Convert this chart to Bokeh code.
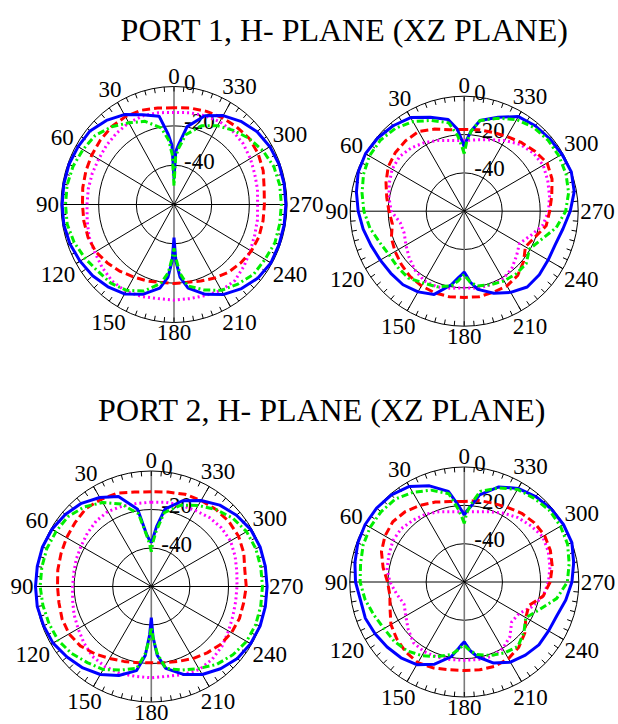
import numpy as np
from bokeh.plotting import figure
from bokeh.models import Range1d
from bokeh.embed import file_html
from bokeh.resources import INLINE
from bokeh.core.properties import value

# ---------------- data (relative level, dB; radial range -60 .. 0 dB) ----------------
DB_MIN, DB_MAX = -60.0, 0.0

# angles (deg) used for the solid / dash-dot traces (denser near the nulls)
ANG_N = [0, 2, 5, 10, 20, 30, 40, 50, 60, 70, 80, 90, 100, 110, 120, 130, 140, 150, 160, 170,
         175, 178, 180, 182, 185, 190, 200, 210, 220, 230, 240, 250, 260, 270, 280, 290, 300,
         310, 320, 330, 340, 350, 355, 358, 360]
# angles (deg) used for the dashed / dotted traces
ANG_W = [0, 10, 20, 30, 40, 50, 60, 70, 80, 90, 100, 110, 120, 130, 140, 150, 160, 170, 180,
         190, 200, 210, 220, 230, 240, 250, 260, 270, 280, 290, 300, 310, 320, 330, 340, 350, 360]

# Port 1, left pattern
P1A_BLUE = [-46.8, -30.0, -24.0, -14.4, -11.4, -7.2, -4.2, -1.8, -1.2, -0.6, -0.6, -0.6, -0.6, -1.2,
            -2.4, -3.6, -5.4, -7.5, -11.4, -16.8, -22.8, -31.2, -43.2, -31.2, -22.8, -16.8, -11.4,
            -7.2, -4.2, -1.8, -0.6, -0.6, -0.6, -0.6, -0.6, -0.6, -1.2, -2.4, -4.8, -7.8, -12.0,
            -19.8, -28.8, -33.0, -46.8]
P1A_GREEN = [-50.4, -34.8, -27.0, -20.4, -15.0, -12.0, -8.4, -5.4, -4.2, -3.0, -2.4, -2.4, -2.4,
             -3.6, -5.4, -7.2, -7.8, -9.6, -13.2, -19.2, -25.2, -33.0, -37.8, -33.0, -25.2, -18.0,
             -13.8, -9.6, -7.2, -4.8, -4.2, -3.0, -3.0, -3.0, -3.0, -3.6, -5.4, -7.8, -10.8, -13.8,
             -17.4, -24.0, -31.2, -36.0, -50.4]
P1A_RED = [-10.8, -10.2, -9.0, -8.4, -8.4, -9.0, -9.6, -10.2, -10.8, -11.4, -11.4, -11.4, -12.0,
           -13.8, -15.6, -17.4, -18.6, -19.8, -19.8, -19.8, -18.6, -16.8, -15.0, -13.8, -12.6,
           -12.0, -12.0, -12.0, -11.4, -9.6, -8.4, -7.8, -8.4, -9.0, -9.6, -10.2, -10.8]
P1A_MAGENTA = [-13.2, -12.6, -12.0, -12.0, -12.6, -13.2, -13.8, -13.8, -13.8, -13.8, -13.2, -12.0,
               -11.4, -10.2, -9.0, -9.0, -10.2, -11.4, -11.4, -11.4, -10.8, -9.6, -9.6, -11.4,
               -13.2, -14.4, -15.0, -15.6, -15.0, -14.4, -13.2, -12.0, -11.4, -11.4, -12.0,
               -12.6, -13.2]

# Port 1, right pattern
P1B_BLUE = [-26.4, -22.8, -16.8, -11.4, -7.8, -3.6, -1.8, -0.6, 0.0, -0.6, -2.4, -4.2, -6.0, -7.8,
            -9.0, -9.6, -9.9, -11.4, -13.8, -21.0, -25.2, -27.0, -28.2, -26.4, -22.8, -18.6,
            -14.4, -11.1, -8.4, -8.4, -9.0, -9.0, -7.2, -4.2, -1.2, 0.0, -0.6, -1.2, -1.8, -3.0,
            -7.8, -12.0, -18.0, -22.8, -26.4]
P1B_GREEN = [-30.0, -26.4, -20.4, -13.2, -9.6, -6.0, -3.6, -2.4, -2.4, -3.6, -5.4, -7.2, -9.6,
             -12.6, -14.4, -14.4, -14.4, -16.8, -18.0, -20.4, -23.4, -25.8, -27.0, -25.2, -22.8,
             -20.4, -19.2, -18.0, -17.4, -17.4, -20.4, -16.8, -10.8, -6.6, -4.2, -3.0, -2.4,
             -2.4, -3.0, -4.8, -8.4, -12.0, -18.0, -24.0, -30.0]
P1B_RED = [-17.4, -16.8, -14.4, -12.0, -12.0, -12.6, -13.8, -16.2, -18.6, -20.4, -21.6, -19.2,
           -18.0, -16.8, -15.6, -15.0, -14.7, -14.7, -15.0, -14.7, -15.0, -15.0, -16.2, -19.2,
           -22.8, -20.4, -16.2, -15.0, -13.2, -10.8, -9.6, -11.4, -13.2, -15.0, -16.2, -16.8,
           -17.4]
P1B_MAGENTA = [-23.1, -22.5, -20.7, -18.6, -16.8, -15.6, -16.2, -18.0, -19.8, -21.6, -25.8, -26.4,
               -24.6, -22.2, -19.8, -18.0, -18.0, -19.2, -20.0, -19.2, -19.2, -19.2, -21.0,
               -24.0, -26.4, -22.8, -18.0, -15.6, -14.4, -13.2, -12.0, -12.6, -14.4, -17.4,
               -20.4, -22.2, -23.1]

# Port 2, left pattern
P2A_BLUE = [-37.2, -36.0, -33.0, -19.2, -10.2, -6.6, -3.6, -1.8, -0.6, 0.0, 0.0, 0.0, 0.0, -0.6,
            -1.2, -3.0, -4.8, -7.2, -10.8, -15.6, -24.0, -34.8, -43.8, -33.6, -24.0, -16.8, -11.4,
            -7.2, -4.2, -1.8, -0.6, 0.0, 0.0, 0.0, 0.0, 0.0, -0.6, -2.4, -4.8, -8.4, -12.6,
            -19.2, -28.8, -34.8, -37.2]
P2A_GREEN = [-42.0, -38.4, -33.6, -21.6, -14.4, -9.6, -6.0, -3.6, -3.0, -2.4, -2.4, -2.4, -3.0,
             -3.6, -4.2, -6.0, -8.4, -10.2, -13.8, -16.8, -25.2, -33.0, -39.0, -33.0, -25.2,
             -16.8, -13.8, -10.8, -7.2, -4.8, -3.0, -2.4, -2.4, -2.4, -2.4, -2.4, -3.0, -4.8,
             -7.8, -11.4, -15.0, -21.0, -31.2, -37.2, -42.0]
P2A_RED = [-10.8, -10.2, -8.4, -7.8, -7.2, -8.4, -9.3, -10.2, -10.8, -11.4, -11.4, -10.8, -10.8,
           -12.0, -14.4, -16.8, -18.6, -19.8, -20.4, -19.8, -18.6, -16.8, -15.0, -13.2, -12.0,
           -11.4, -11.4, -10.8, -10.8, -9.0, -7.8, -7.5, -7.8, -8.4, -9.0, -10.2, -10.8]
P2A_MAGENTA = [-16.2, -16.2, -15.6, -15.0, -15.6, -16.8, -18.0, -18.6, -19.2, -19.2, -18.6, -17.4,
               -16.2, -14.4, -12.6, -12.0, -12.0, -12.6, -12.6, -12.6, -11.4, -10.2, -10.8,
               -12.0, -13.8, -15.0, -15.6, -15.6, -15.0, -13.8, -12.6, -12.6, -13.2, -14.4,
               -15.0, -15.6, -16.2]

# Port 2, right pattern
P2B_BLUE = [-25.2, -22.8, -19.2, -12.0, -6.6, -2.4, -0.6, 0.0, 0.0, -0.6, -1.8, -3.0, -4.8, -4.8,
            -6.0, -7.2, -8.4, -10.2, -14.4, -20.4, -25.2, -27.6, -28.8, -27.0, -24.0, -20.4,
            -15.0, -11.7, -10.2, -9.0, -9.0, -8.4, -6.0, -3.6, -1.8, 0.0, 0.0, -0.6, -1.8, -3.6,
            -7.2, -13.8, -20.4, -22.8, -25.2]
P2B_GREEN = [-29.4, -26.4, -21.6, -13.2, -9.0, -6.0, -3.6, -3.0, -3.0, -3.6, -4.8, -5.4, -7.2,
             -9.6, -11.4, -12.0, -13.2, -15.6, -18.6, -21.6, -24.6, -26.4, -27.0, -25.8, -24.0,
             -21.6, -19.2, -17.4, -16.2, -19.2, -22.8, -18.0, -10.8, -6.0, -4.2, -2.4, -1.8,
             -1.8, -3.0, -4.2, -7.8, -12.0, -19.2, -24.0, -29.4]
P2B_RED = [-18.0, -17.4, -15.6, -13.8, -12.0, -11.1, -12.0, -13.8, -16.8, -19.8, -20.4, -18.6,
           -15.6, -13.8, -12.3, -11.4, -12.3, -13.5, -13.8, -13.5, -13.2, -13.8, -15.6, -18.6,
           -22.8, -24.0, -18.0, -15.0, -13.2, -12.0, -11.4, -12.0, -13.2, -15.0, -16.2, -16.8,
           -18.0]
P2B_MAGENTA = [-23.4, -22.8, -21.0, -19.2, -18.0, -16.8, -16.8, -18.0, -18.9, -21.0, -24.0, -26.4,
               -24.6, -21.6, -18.6, -18.0, -18.3, -18.9, -19.2, -18.9, -18.6, -19.8, -22.8,
               -27.6, -27.0, -22.2, -18.0, -15.9, -14.4, -13.2, -12.6, -14.4, -16.2, -18.6,
               -21.0, -22.8, -23.4]

# axis annotations
ANG_TICKS = [0, 30, 60, 90, 120, 150, 180, 210, 240, 270, 300, 330]
ANG_LABELS = ["0", "30", "60", "90", "120", "150", "180", "210", "240", "270", "300", "330"]
R_TICKS = [0, -20, -40]
R_LABELS = ["0", "-20", "-40"]
TITLES = ["PORT 1, H- PLANE (XZ PLANE)", "PORT 2, H- PLANE (XZ PLANE)"]

# ---------------- layout (pixel-like coordinates, y downwards) ----------------
W, H = 618, 724
PANELS = [
    dict(c=(173.5, 204.0, 113.0, 118.0), data=(P1A_BLUE, P1A_GREEN, P1A_RED, P1A_MAGENTA)),
    dict(c=(463.7, 210.7, 114.0, 115.0), data=(P1B_BLUE, P1B_GREEN, P1B_RED, P1B_MAGENTA)),
    dict(c=(150.8, 586.0, 115.8, 115.5), data=(P2A_BLUE, P2A_GREEN, P2A_RED, P2A_MAGENTA)),
    dict(c=(463.8, 581.5, 114.5, 115.0), data=(P2B_BLUE, P2B_GREEN, P2B_RED, P2B_MAGENTA)),
]
TITLE_POS = [(344.0, 29.5), (321.5, 409.0)]

FONT = value("Liberation Serif")
FS = 23

p = figure(width=W, height=H, x_range=Range1d(0, W), y_range=Range1d(H, 0),
           output_backend="svg", toolbar_location=None, min_border=0,
           x_axis_type=None, y_axis_type=None)
p.grid.visible = False
p.outline_line_color = None


def frac(db):
    return (np.asarray(db, dtype=float) - DB_MIN) / (DB_MAX - DB_MIN)


def polar(c, ang, db):
    cx, cy, rx, ry = c
    r = frac(db)
    t = np.radians(np.asarray(ang, dtype=float))
    return cx - rx * r * np.sin(t), cy - ry * r * np.cos(t)


for (tx, ty), title in zip(TITLE_POS, TITLES):
    p.text(x=[tx], y=[ty], text=[title], text_font=FONT, text_font_size=value("32px"),
           text_align="center", text_baseline="alphabetic", text_color="black")

for panel in PANELS:
    cx, cy, rx, ry = panel["c"]
    # rings
    for lev in R_TICKS:
        f = float(frac([lev])[0])
        if f > 0:
            p.ellipse(x=[cx], y=[cy], width=[2 * rx * f], height=[2 * ry * f],
                      fill_color=None, line_color="black", line_width=1)
    # spokes
    t = np.radians(np.array(ANG_TICKS, dtype=float))
    x1 = cx - rx * np.sin(t)
    y1 = cy - ry * np.cos(t)
    cols = ["#7a7a7a" if a % 180 == 0 else "black" for a in ANG_TICKS]
    wid = [1.6 if a % 180 == 0 else 1.0 for a in ANG_TICKS]
    p.segment(x0=[cx] * len(t), y0=[cy] * len(t), x1=x1, y1=y1, line_color=cols, line_width=wid)
    # minor ticks on the outer ring, every 5 degrees
    tk = np.radians(np.arange(0, 360, 5, dtype=float))
    p.segment(x0=cx - rx * np.sin(tk), y0=cy - ry * np.cos(tk),
              x1=cx - (rx - 5) * np.sin(tk), y1=cy - (ry - 5) * np.cos(tk),
              line_color="black", line_width=1)
    # angle labels
    lx, ly = [], []
    for a, lab in zip(ANG_TICKS, ANG_LABELS):
        s, c = np.sin(np.radians(a)), np.cos(np.radians(a))
        pad = 2 + 0.25 * FS * len(lab) * abs(s) + 0.36 * FS * abs(c)
        lx.append(cx - (rx + pad) * s)
        ly.append(cy - (ry + pad) * c)
    p.text(x=lx, y=ly, text=ANG_LABELS, text_font=FONT, text_font_size=value(f"{FS}px"),
           text_align="center", text_baseline="middle", text_color="black")
    # radial labels
    rlx = [cx + 10] * len(R_TICKS)
    rly = list(cy - ry * frac(R_TICKS) - 4)
    p.text(x=rlx, y=rly, text=R_LABELS, text_font=FONT, text_font_size=value(f"{FS}px"),
           text_align="left", text_baseline="alphabetic", text_color="black")

    blue, green, red, magenta = panel["data"]
    xm, ym = polar(panel["c"], ANG_W, magenta)
    p.line(xm, ym, line_color="#ff00ff", line_width=3, line_dash="2 3")
    xr, yr = polar(panel["c"], ANG_W, red)
    p.line(xr, yr, line_color="#ff0000", line_width=3, line_dash="8 4")
    xb, yb = polar(panel["c"], ANG_N, blue)
    p.line(xb, yb, line_color="#0000ff", line_width=3)
    xg, yg = polar(panel["c"], ANG_N, green)
    p.line(xg, yg, line_color="#00ee00", line_width=3, line_dash="7 3 2 3")

open("out.html", "w").write(file_html(p, INLINE))
